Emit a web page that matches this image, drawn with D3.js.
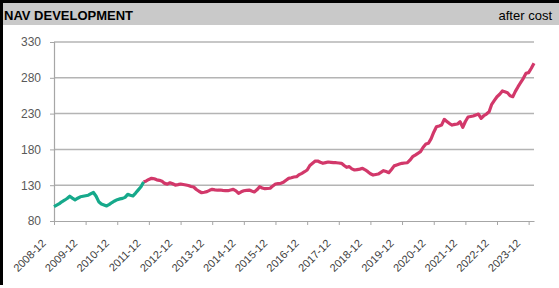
<!DOCTYPE html>
<html>
<head>
<meta charset="utf-8">
<script src="https://cdn.jsdelivr.net/npm/d3@7/dist/d3.min.js"></script>
<style>
  body { margin: 0; background: #fff; }
  svg { display: block; }
</style>
</head>
<body>
<svg width="559" height="288"></svg>
<script>
// monthly NAV, first month 2008-12
const startMonth = "2008-12";
const greenNav = [
  100.0, 102.1, 104.3, 106.8, 109.0, 111.4, 114.6, 112.0, 109.5, 111.8,
  113.8, 114.5, 115.2, 116.0, 118.2, 119.8, 114.5, 107.0, 103.8, 102.5,
  101.0, 103.2, 105.8, 108.0, 109.8, 110.9, 111.6, 113.0, 117.2, 116.0,
  115.0, 119.0, 123.5, 127.8, 134.5
];
// continues from the last green month (2011-10)
const pinkNav = [
  134.5, 136.0, 138.0, 139.6, 139.0, 137.5, 136.8, 135.5, 132.5, 131.5,
  133.4, 132.0, 130.2, 130.8, 131.7, 131.0, 130.3, 129.5, 128.2, 127.5,
  124.0, 121.5, 119.5, 120.2, 121.0, 122.8, 124.2, 123.5, 123.0, 123.3,
  122.8, 122.5, 122.3, 123.2, 124.1, 122.0, 118.7, 120.8, 122.3, 122.8,
  123.2, 121.8, 120.5, 123.5, 127.9, 126.0, 125.1, 125.4, 125.7, 129.0,
  131.7, 132.3, 132.6, 134.0, 137.0, 139.6, 140.5, 141.5, 141.9, 144.8,
  146.6, 148.8, 151.2, 157.5, 160.6, 163.5, 163.8, 162.0, 160.6, 161.5,
  162.4, 162.0, 161.6, 161.4, 161.0, 160.6, 157.5, 155.0, 156.0, 152.8,
  151.2, 151.8, 152.5, 153.6, 151.5, 148.9, 146.0, 144.2, 145.0, 145.6,
  148.0, 150.3, 149.0, 147.5, 152.0, 157.0, 158.2, 159.5, 160.6, 161.0,
  161.4, 165.0, 169.8, 172.0, 174.5, 176.8, 183.0, 187.5, 188.5, 195.0,
  204.0, 211.7, 212.8, 214.0, 222.0, 219.0, 216.0, 214.0, 215.0, 215.5,
  218.7, 210.9, 219.0, 225.3, 226.0, 226.6, 228.0, 229.4, 223.4, 227.0,
  229.4, 232.6, 243.0, 248.5, 253.6, 257.0, 261.6, 260.5, 259.2, 255.0,
  253.6, 261.0, 267.6, 273.5, 279.3, 286.3, 287.2, 293.3, 300.3
];
const yTicks = [80, 130, 180, 230, 280, 330];
const xTickLabels = ["2008-12","2009-12","2010-12","2011-12","2012-12","2013-12","2014-12","2015-12",
                     "2016-12","2017-12","2018-12","2019-12","2020-12","2021-12","2022-12","2023-12"];

var svg = d3.select("svg"),
    width = +svg.attr("width"),
    height = +svg.attr("height");

var parseMonth = d3.timeParse("%Y-%m");
var t0 = parseMonth(startMonth);
var greenData = greenNav.map((v, i) => ({date: d3.timeMonth.offset(t0, i), v: v}));
var pinkOffset = greenNav.length - 1;
var pinkData = pinkNav.map((v, i) => ({date: d3.timeMonth.offset(t0, pinkOffset + i), v: v}));
var lastDate = pinkData[pinkData.length - 1].date;

var x = d3.scaleTime().domain([t0, lastDate]).range([54, 534]);
var y = d3.scaleLinear().domain([80, 330]).range([221, 42]);

// frame + header band
svg.append("rect").attr("x", 0).attr("y", 0).attr("width", width).attr("height", 3).attr("fill", "#000");
svg.append("rect").attr("x", 0).attr("y", 0).attr("width", 3).attr("height", 285).attr("fill", "#000");
svg.append("rect").attr("x", 3).attr("y", 3).attr("width", width - 3).attr("height", 22).attr("fill", "#c9c9c9");

svg.append("text")
    .attr("x", 4).attr("y", 19.5)
    .attr("font-family", "Liberation Sans, Arial, sans-serif")
    .attr("font-size", 13).attr("font-weight", "bold")
    .attr("fill", "#000")
    .text("NAV DEVELOPMENT");
svg.append("text")
    .attr("x", 552).attr("y", 19.5)
    .attr("text-anchor", "end")
    .attr("font-family", "Liberation Sans, Arial, sans-serif")
    .attr("font-size", 13)
    .attr("fill", "#000")
    .text("after cost");

// gridlines
svg.append("g")
  .selectAll("line")
  .data(yTicks.slice(1))
  .enter().append("line")
    .attr("x1", 54).attr("x2", 534)
    .attr("y1", d => y(d)).attr("y2", d => y(d))
    .attr("stroke", "#b4b4b4").attr("stroke-width", 1.5);

// y axis
var yAxis = svg.append("g")
    .attr("transform", "translate(54,0)")
    .call(d3.axisLeft(y).tickValues(yTicks).tickSize(4).tickPadding(9));
yAxis.select(".domain").attr("stroke", "#a6a6a6").attr("stroke-width", 1.2);
yAxis.selectAll(".tick line").attr("stroke", "#a6a6a6");
yAxis.selectAll("text")
    .attr("font-family", "Liberation Sans, Arial, sans-serif")
    .attr("font-size", 12).attr("fill", "#595959");

// x axis
var xTicks = xTickLabels.map(parseMonth);
var xAxis = svg.append("g")
    .attr("transform", "translate(0,221)")
    .call(d3.axisBottom(x).tickValues(xTicks).tickSize(4).tickSizeOuter(0)
      .tickFormat((d, i) => xTickLabels[i]));
xAxis.select(".domain").attr("stroke", "#a6a6a6").attr("stroke-width", 1.2);
xAxis.selectAll(".tick line").attr("stroke", "#a6a6a6");
xAxis.selectAll("text")
    .attr("font-family", "Liberation Sans, Arial, sans-serif")
    .attr("font-size", 11).attr("fill", "#404040")
    .attr("text-anchor", "end")
    .attr("dy", null)
    .attr("y", 0)
    .attr("transform", "translate(-8,23) rotate(-45)");

// lines
var line = d3.line().x(d => x(d.date)).y(d => y(d.v));
svg.append("path").datum(pinkData)
    .attr("fill", "none").attr("stroke", "#d2386a").attr("stroke-width", 3.2)
    .attr("stroke-linejoin", "round")
    .attr("d", line);
svg.append("path").datum(greenData)
    .attr("fill", "none").attr("stroke", "#16a98b").attr("stroke-width", 3.2)
    .attr("stroke-linejoin", "round")
    .attr("d", line);
</script>
</body>
</html>
